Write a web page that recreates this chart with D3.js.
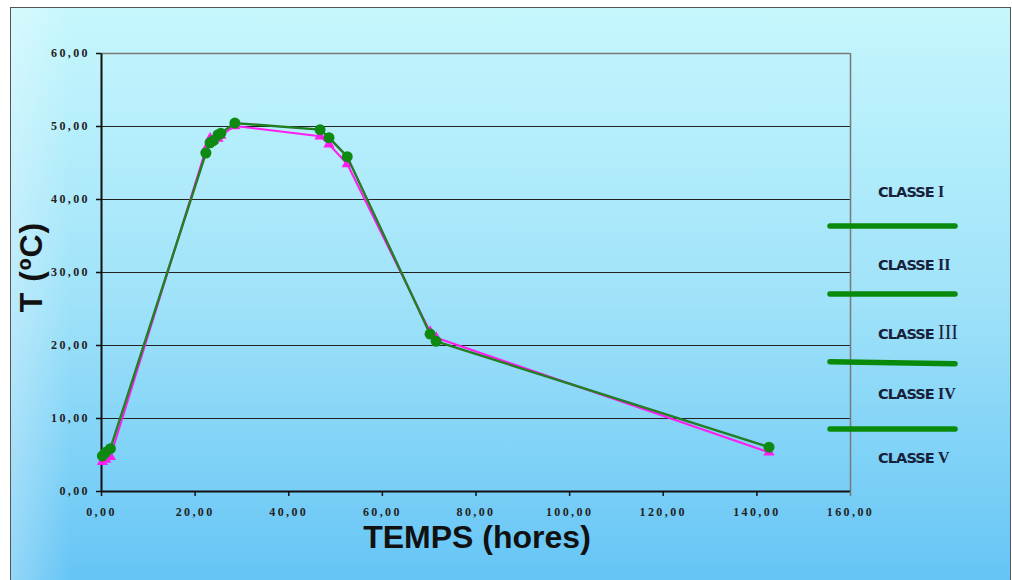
<!DOCTYPE html>
<html><head><meta charset="utf-8">
<script src="https://cdn.jsdelivr.net/npm/d3@7"></script>
<style>body{margin:0;background:#fff}svg{display:block}</style>
</head><body>
<script>
// ---- data ----
const timeHours = [0.3, 1.0, 2.0, 22.4, 23.3, 24.0, 25.0, 25.6, 28.6, 46.8, 48.7, 52.6, 70.3, 71.6, 142.7];
const tempGreen = [4.8, 5.3, 5.8, 46.3, 47.7, 48.0, 48.8, 49.0, 50.4, 49.5, 48.4, 45.8, 21.5, 20.5, 6.0];
const tempMagenta = [4.0, 4.3, 4.7, 46.8, 48.3, 48.0, 48.3, 48.7, 50.0, 48.6, 47.5, 44.8, 21.8, 21.0, 5.3];
const xTicks = [0, 20, 40, 60, 80, 100, 120, 140, 160];
const yTicks = [0, 10, 20, 30, 40, 50, 60];
const classLabels = ["CLASSE I", "CLASSE II", "CLASSE III", "CLASSE IV", "CLASSE V"];
const classLabelTemps = [41.0, 31.0, 21.6, 13.4, 4.6];
const classLimits = [36.3, 27.0, 17.7, 8.5];

const W = 1012, H = 580;
const svg = d3.select("body").append("svg").attr("width", W).attr("height", H);
const defs = svg.append("defs");
const g1 = defs.append("linearGradient").attr("id","bg").attr("x1",0).attr("y1",0).attr("x2",0).attr("y2",1);
g1.append("stop").attr("offset","0%").attr("stop-color","#c6f7fd");
g1.append("stop").attr("offset","50%").attr("stop-color","#9fe2f9");
g1.append("stop").attr("offset","100%").attr("stop-color","#62c3f5");
const g2 = defs.append("linearGradient").attr("id","lft").attr("x1",0).attr("y1",0).attr("x2",1).attr("y2",0);
g2.append("stop").attr("offset","0%").attr("stop-color","#ffffff").attr("stop-opacity",0.3);
g2.append("stop").attr("offset","6%").attr("stop-color","#ffffff").attr("stop-opacity",0);

svg.append("rect").attr("x",10.5).attr("y",7.5).attr("width",1000).attr("height",590)
  .attr("fill","url(#bg)").attr("stroke","#555").attr("stroke-width",1);
svg.append("rect").attr("x",11).attr("y",8).attr("width",999).attr("height",589).attr("fill","url(#lft)");

const x = d3.scaleLinear().domain([0,160]).range([101,850]);
const y = d3.scaleLinear().domain([0,60]).range([491,53]);

// gridlines
svg.append("g").selectAll("line").data(yTicks.filter(d=>d>0 && d<60)).join("line")
  .attr("x1",x(0)).attr("x2",x(160)).attr("y1",d=>Math.round(y(d))+0.5).attr("y2",d=>Math.round(y(d))+0.5)
  .attr("stroke","#222").attr("stroke-width",1.2);
// top & right border
svg.append("line").attr("x1",x(0)).attr("x2",x(160)).attr("y1",53.5).attr("y2",53.5).attr("stroke","#7a7a7a").attr("stroke-width",1.5);
svg.append("line").attr("x1",850.5).attr("x2",850.5).attr("y1",53).attr("y2",491).attr("stroke","#7a7a7a").attr("stroke-width",1.5);

const fmt = d => d3.format(".2f")(d).replace(".", ",");
const yAxis = svg.append("g").attr("transform","translate(101,0)")
  .call(d3.axisLeft(y).tickValues(yTicks).tickSize(5).tickSizeOuter(0).tickFormat(fmt));
const xAxis = svg.append("g").attr("transform","translate(0,491)")
  .call(d3.axisBottom(x).tickValues(xTicks).tickSize(5).tickSizeOuter(0).tickFormat(fmt));
[yAxis, xAxis].forEach(a=>{
  a.select(".domain").attr("stroke","#111").attr("stroke-width",2);
  a.selectAll(".tick line").attr("stroke","#111").attr("stroke-width",1.5);
  a.selectAll("text").attr("fill","#222").attr("font-family","'Liberation Serif', serif")
    .attr("font-weight","bold").attr("font-size",12).style("letter-spacing","2.4px");
});
yAxis.selectAll("text").attr("x",-11);
xAxis.selectAll("text").attr("y",16);
xAxis.select(".tick:last-of-type line").attr("stroke","#7a7a7a");

// series
const pts = (vals) => timeHours.map((t,i)=>[t, vals[i]]);
const line = d3.line().x(d=>x(d[0])).y(d=>y(d[1])).curve(d3.curveLinear);
svg.append("path").attr("d",line(pts(tempMagenta))).attr("fill","none").attr("stroke","#ff1cf0").attr("stroke-width",2).attr("stroke-linejoin","round");
svg.append("g").selectAll("path").data(pts(tempMagenta)).join("path")
  .attr("d", d3.symbol().type(d3.symbolTriangle).size(55))
  .attr("transform", d=>`translate(${x(d[0])},${y(d[1])})`).attr("fill","#ff1cf0");
svg.append("path").attr("d",line(pts(tempGreen))).attr("fill","none").attr("stroke","#2f6e2f").attr("stroke-width",2.4).attr("stroke-linejoin","round");
svg.append("path").attr("d",line(pts(tempGreen))).attr("fill","none").attr("stroke","#169016").attr("stroke-width",1).attr("stroke-linejoin","round");
svg.append("g").selectAll("circle").data(pts(tempGreen)).join("circle")
  .attr("cx",d=>x(d[0])).attr("cy",d=>y(d[1])).attr("r",5.5).attr("fill","#0e8a12");

// class labels and limits
svg.append("g").selectAll("line").data(classLimits).join("line")
  .attr("x1",830).attr("x2",955).attr("y1",(d,i)=>y(d)).attr("y2",(d,i)=> i===2 ? y(d)+2 : y(d))
  .attr("stroke","#0a8a0a").attr("stroke-width",5.5).attr("stroke-linecap","round");
const lab = svg.append("g").selectAll("text").data(classLabels).join("text")
  .attr("x",878).attr("y",(d,i)=>y(classLabelTemps[i])+5.5)
  .attr("font-family","'DejaVu Sans', Verdana, sans-serif").attr("font-weight","bold")
  .attr("font-size",14.5).attr("fill","#16213a").style("letter-spacing","-0.9px");
lab.each(function(d){
  const t = d3.select(this);
  const parts = d.split(" ");
  t.append("tspan").text(parts[0] + " ");
  const numeral = t.append("tspan").text(parts[1]).attr("font-family","'Liberation Serif', serif").style("letter-spacing","0px");
  if (parts[1] === "III") numeral.attr("font-size",20).attr("font-weight","normal");
  else numeral.attr("font-size",16);
});

// titles
svg.append("text").attr("transform","translate(42,267) rotate(-90)").attr("text-anchor","middle")
  .attr("font-family","'Liberation Sans', Arial, sans-serif").attr("font-weight","bold").attr("font-size",32)
  .attr("fill","#111").style("letter-spacing","1px").text("T (ºC)");
svg.append("text").attr("x",477).attr("y",548).attr("text-anchor","middle")
  .attr("font-family","'Liberation Sans', Arial, sans-serif").attr("font-weight","bold").attr("font-size",32)
  .attr("fill","#111").text("TEMPS (hores)");
</script>
</body></html>
